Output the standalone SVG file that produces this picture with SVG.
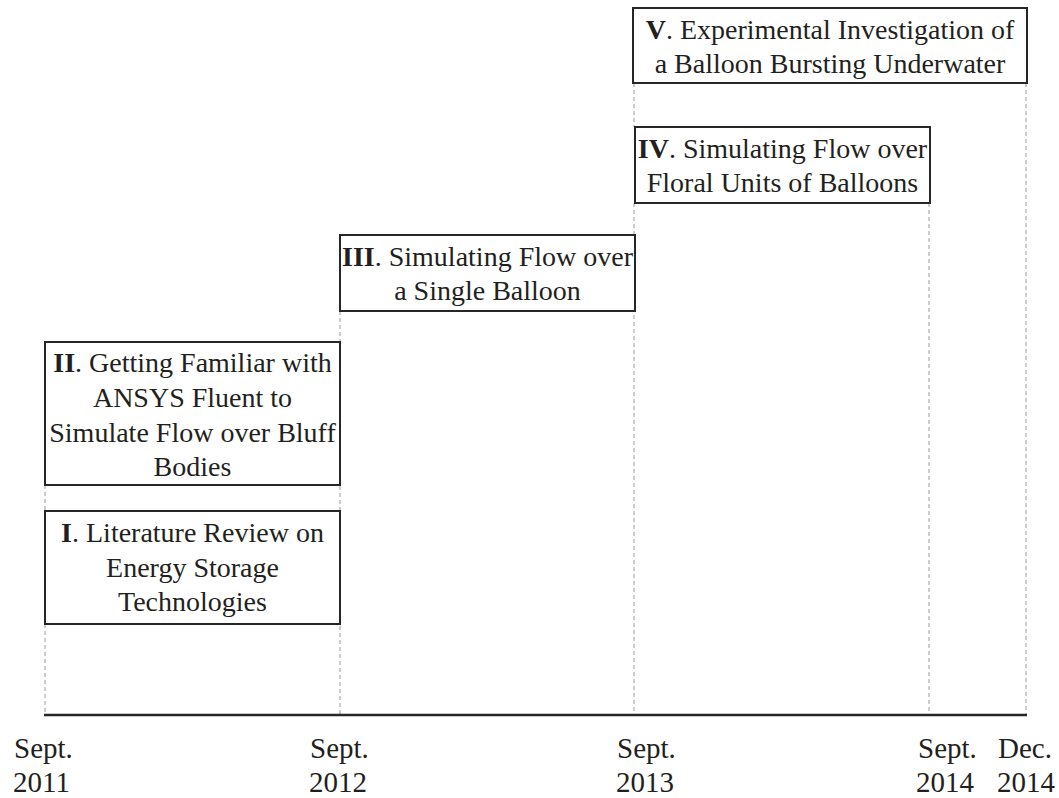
<svg xmlns="http://www.w3.org/2000/svg" width="1059" height="798" viewBox="0 0 1059 798">
<style>
.box{fill:#fff;stroke:#262626;stroke-width:2}
.t{font-family:"Liberation Serif","Times New Roman",serif;font-size:28px;fill:#231f20;text-anchor:middle}
.lbl{font-family:"Liberation Serif","Times New Roman",serif;font-size:29px;fill:#231f20}
.b{font-weight:bold}
.dash{stroke:#9a9a9a;stroke-width:1;stroke-dasharray:4,3;fill:none}
.axis{stroke:#262626;stroke-width:2.5}
</style>
<rect width="1059" height="798" fill="#fff"/>
<g id="connectors">
<line class="dash" x1="45" y1="485" x2="45" y2="511"/>
<line class="dash" x1="45" y1="624" x2="45" y2="714"/>
<line class="dash" x1="340" y1="311" x2="340" y2="714"/>
<line class="dash" x1="634" y1="83" x2="634" y2="127"/>
<line class="dash" x1="634" y1="203" x2="634" y2="714"/>
<line class="dash" x1="929" y1="203" x2="929" y2="714"/>
<line class="dash" x1="1026" y1="83" x2="1026" y2="714"/>
<line class="axis" x1="44" y1="715" x2="1027" y2="715"/>
</g>
<g id="node-V">
<rect class="box" x="633" y="8" width="394" height="75"/>
<text class="t" x="830" y="39"><tspan class="b">V</tspan>. Experimental Investigation of</text>
<text class="t" x="830" y="73">a Balloon Bursting Underwater</text>
</g>
<g id="node-IV">
<rect class="box" x="635" y="127" width="295" height="76"/>
<text class="t" x="782.5" y="158"><tspan class="b">IV</tspan>. Simulating Flow over</text>
<text class="t" x="782.5" y="192">Floral Units of Balloons</text>
</g>
<g id="node-III">
<rect class="box" x="340" y="235" width="295" height="76"/>
<text class="t" x="487.5" y="266"><tspan class="b">III</tspan>. Simulating Flow over</text>
<text class="t" x="487.5" y="300">a Single Balloon</text>
</g>
<g id="node-II">
<rect class="box" x="45" y="342" width="295" height="143"/>
<text class="t" x="192.5" y="372"><tspan class="b">II</tspan>. Getting Familiar with</text>
<text class="t" x="192.5" y="407">ANSYS Fluent to</text>
<text class="t" x="192.5" y="442">Simulate Flow over Bluff</text>
<text class="t" x="192.5" y="476">Bodies</text>
</g>
<g id="node-I">
<rect class="box" x="45" y="511" width="295" height="113"/>
<text class="t" x="192.5" y="542"><tspan class="b">I</tspan>. Literature Review on</text>
<text class="t" x="192.5" y="577">Energy Storage</text>
<text class="t" x="192.5" y="611">Technologies</text>
</g>
<g id="labels">
<text class="lbl" x="14" y="758">Sept.</text>
<text class="lbl" x="13" y="792">2011</text>
<text class="lbl" x="310" y="758">Sept.</text>
<text class="lbl" x="309" y="792">2012</text>
<text class="lbl" x="617" y="758">Sept.</text>
<text class="lbl" x="616" y="792">2013</text>
<text class="lbl" x="918" y="758">Sept.</text>
<text class="lbl" x="916" y="792">2014</text>
<text class="lbl" x="998" y="758">Dec.</text>
<text class="lbl" x="997" y="792">2014</text>
</g>
</svg>
